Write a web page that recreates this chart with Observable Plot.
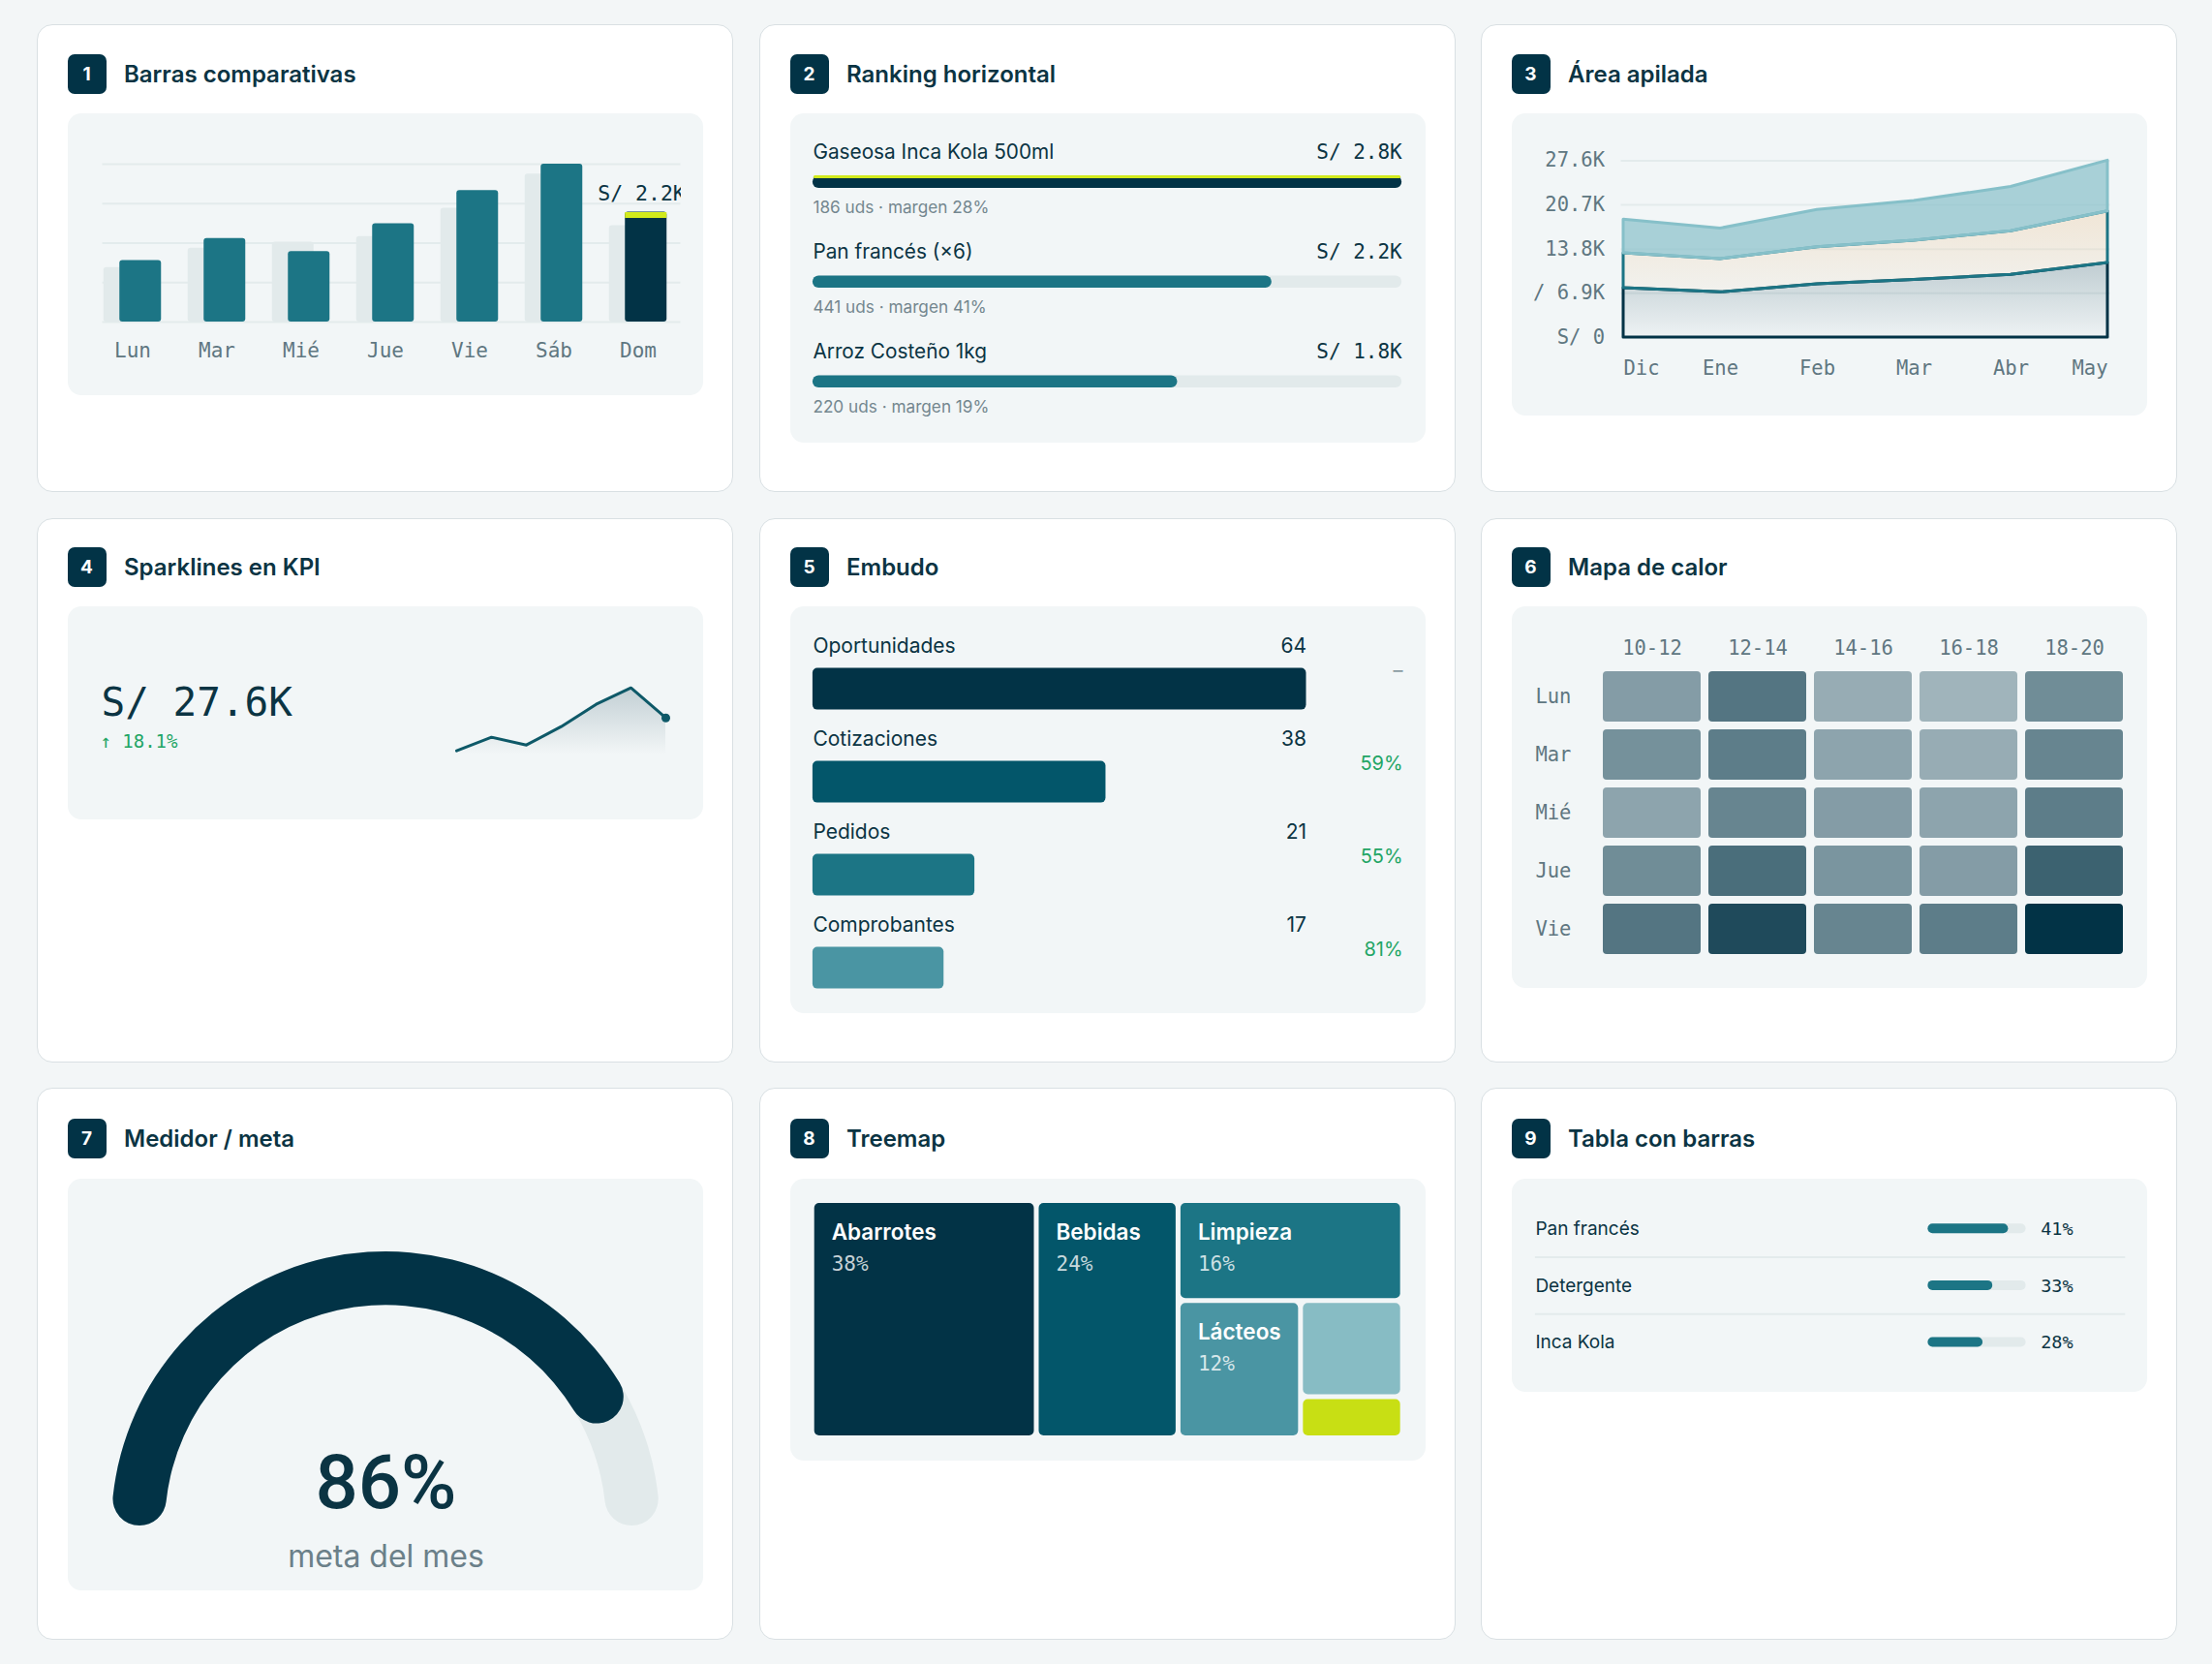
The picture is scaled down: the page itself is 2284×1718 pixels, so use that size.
<!DOCTYPE html>
<html lang="es">
<head>
<meta charset="utf-8">
<title>Panel de ventas</title>
<script src="https://cdn.jsdelivr.net/npm/d3@7"></script>
<script src="https://cdn.jsdelivr.net/npm/@observablehq/plot@0.6"></script>
<style>
  html, body { margin: 0; padding: 0; }
  body { width: 2284px; height: 1718px; position: relative; overflow: hidden; background: #f3f6f7; font-family: Inter, "Noto Sans", sans-serif; }
  .card { position: absolute; width: 719px; background: #ffffff; border: 1.5px solid #d9e0e3; border-radius: 16px; box-sizing: border-box; }
  .head { position: absolute; height: 41px; display: flex; align-items: center; }
  .badge { width: 40px; height: 41px; border-radius: 7px; background: #023346; color: #ffffff; font-weight: 700; font-size: 19px; display: flex; align-items: center; justify-content: center; }
  .title { margin-left: 18.5px; font-weight: 600; font-size: 24px; line-height: 1; color: #0b3443; white-space: nowrap; }
  .inner { position: absolute; width: 656px; background: #f2f6f7; border-radius: 14px; }
</style>
</head>
<body>
<svg width="0" height="0" style="position:absolute;left:0;top:0">
  <defs>
    <linearGradient id="gA" x1="0" y1="0" x2="0" y2="1">
      <stop offset="0" stop-color="#023346" stop-opacity="0.21"/>
      <stop offset="1" stop-color="#023346" stop-opacity="0.02"/>
    </linearGradient>
    <linearGradient id="gB" x1="0" y1="0" x2="0" y2="1">
      <stop offset="0" stop-color="#eecfa9" stop-opacity="0.42"/>
      <stop offset="1" stop-color="#eecfa9" stop-opacity="0.12"/>
    </linearGradient>
    <linearGradient id="gS" x1="0" y1="0" x2="0" y2="1">
      <stop offset="0" stop-color="#023346" stop-opacity="0.2"/>
      <stop offset="1" stop-color="#023346" stop-opacity="0"/>
    </linearGradient>
  </defs>
</svg>
<script>
// ---------------- DATA ----------------
// 1 · Barras comparativas (S/ por día, semana actual vs anterior)
const days = ["Lun", "Mar", "Mié", "Jue", "Vie", "Sáb", "Dom"];
const salesNow = [1230, 1670, 1410, 1970, 2630, 3160, 2200];
const salesPrev = [1090, 1480, 1600, 1710, 2280, 2960, 1930];
const barGrid = [0, 790, 1580, 2370, 3160];

// 2 · Ranking horizontal
const rankNames = ["Gaseosa Inca Kola 500ml", "Pan francés (×6)", "Arroz Costeño 1kg"];
const rankSales = [2830, 2205, 1752];
const rankUnits = [186, 441, 220];
const rankMargin = [28, 41, 19];

// 3 · Área apilada
const months = ["Dic", "Ene", "Feb", "Mar", "Abr", "May"];
const serieA = [7700, 7050, 8300, 9000, 9800, 11650];
const serieB = [5450, 5200, 5800, 6100, 6800, 8050];
const serieC = [5250, 4750, 5800, 6200, 6900, 7900];
const areaTicks = [0, 6900, 13800, 20700, 27600];

// 4 · Sparkline KPI
const kpiTotal = 27600;
const kpiChange = 18.1;
const sparkWeeks = ["S1", "S2", "S3", "S4", "S5", "S6", "S7"];
const sparkValues = [3.2, 3.9, 3.5, 4.45, 5.6, 6.45, 4.9];

// 5 · Embudo
const funnelStages = ["Oportunidades", "Cotizaciones", "Pedidos", "Comprobantes"];
const funnelCounts = [64, 38, 21, 17];

// 6 · Mapa de calor
const hmDays = ["Lun", "Mar", "Mié", "Jue", "Vie"];
const hmSlots = ["10-12", "12-14", "14-16", "16-18", "18-20"];
const hmValues = [
  [23, 33, 19, 17, 27],
  [26, 31, 21, 19, 29],
  [21, 29, 23, 21, 31],
  [27, 35, 25, 23, 38],
  [33, 44, 29, 31, 50]
];

// 7 · Medidor
const gaugeValue = 0.86;
const gaugeLabel = "meta del mes";

// 8 · Treemap
const tmCats = ["Abarrotes", "Bebidas", "Limpieza", "Lácteos", "Snacks", "Otros"];
const tmShare = [38, 24, 16, 12, 7, 3];

// 9 · Tabla con barras
const tblItems = ["Pan francés", "Detergente", "Inca Kola"];
const tblShare = [41, 33, 28];
const tblMax = 50;

// ---------------- STYLE ----------------
const MONO = "'DejaVu Sans Mono', 'Liberation Mono', monospace";
const SANS = "Inter, 'Noto Sans', sans-serif";
const DARK = "#023346", TEAL = "#1c7585", TEAL2 = "#03566a", TEAL3 = "#4a95a3", TEAL4 = "#87bcc4";
const LIME = "#d2ea1c", LIME_TILE = "#c8df14";
const TRACK = "#e2eaeb", GRID = "#e3ebec", TEXT = "#0b3443", GRAY = "#5f7781", SUBGRAY = "#74878f", GREEN = "#22a565", PANEL = "#f2f6f7";
const FUNNEL_COLORS = [DARK, TEAL2, TEAL, TEAL3];
const TM_COLORS = [DARK, TEAL2, TEAL, TEAL3, TEAL4, LIME_TILE];

const fmtK = v => "S/ " + (v / 1000).toFixed(1) + "K";
const baseStyle = (extra = {}) => Object.assign({background: "transparent", fontFamily: MONO, fontSize: "21px", color: GRAY, maxWidth: "none"}, extra);

function place(svg, left, top) {
  svg.style.position = "absolute";
  svg.style.left = left + "px";
  svg.style.top = top + "px";
  svg.style.maxWidth = "none";
  document.body.appendChild(svg);
}

// ---------------- CARDS ----------------
const titles = ["Barras comparativas", "Ranking horizontal", "Área apilada", "Sparklines en KPI", "Embudo", "Mapa de calor", "Medidor / meta", "Treemap", "Tabla con barras"];
const colX = [38, 784, 1529];
const rowY = [25, 535, 1123];
const rowH = [483, 562, 570];
const headOff = [31, 30.3, 32];
const innerOff = [92.3, 91.3, 94];
const innerH = [291, 339.4, 311.4, 220, 420, 393.7, 424.6, 290.7, 220.4];
titles.forEach((t, i) => {
  const r = Math.floor(i / 3), c = i % 3;
  const card = document.createElement("div");
  card.className = "card";
  card.style.left = colX[c] + "px"; card.style.top = rowY[r] + "px"; card.style.height = rowH[r] + "px";
  document.body.appendChild(card);
  const head = document.createElement("div");
  head.className = "head";
  head.style.left = (colX[c] + 31.5) + "px"; head.style.top = (rowY[r] + headOff[r]) + "px";
  head.innerHTML = `<div class="badge">${i + 1}</div><div class="title">${t}</div>`;
  document.body.appendChild(head);
  const inner = document.createElement("div");
  inner.className = "inner";
  inner.style.left = (colX[c] + 31.5) + "px"; inner.style.top = (rowY[r] + innerOff[r]) + "px"; inner.style.height = innerH[i] + "px";
  document.body.appendChild(inner);
});

// ---------------- 1 · Barras comparativas ----------------
const barRows = days.map((d, i) => ({day: d, now: salesNow[i], prev: salesPrev[i]}));
const domRow = barRows.filter(d => d.day === "Dom");
place(Plot.plot({
  width: 632.5, height: 291,
  marginLeft: 35.5, marginRight: 0, marginTop: 52, marginBottom: 76,
  x: {type: "band", domain: days, range: [1.1, 654.6], padding: 0.506, axis: null},
  y: {domain: [0, 3160], axis: null},
  color: {type: "identity"},
  style: baseStyle({overflow: "hidden"}),
  marks: [
    Plot.ruleY(barGrid, {stroke: GRID, strokeWidth: 2}),
    Plot.barY(barRows, {x: "day", y: "prev", fill: TRACK, dx: -8.25, rx: 3}),
    Plot.barY(barRows, {x: "day", y: "now", fill: d => d.day === "Dom" ? DARK : TEAL, dx: 8.25, rx: 3}),
    Plot.tickY(domRow, {x: "day", y: "now", stroke: LIME, strokeWidth: 6, dx: 8.25, dy: 3}),
    Plot.text(domRow, {x: "day", y: "now", text: d => fmtK(d.now), textAnchor: "start", dx: -41.8, dy: -12.3, lineAnchor: "bottom", fontFamily: MONO, fontSize: 21.5, fill: TEXT}),
    Plot.text(days, {x: d => d, frameAnchor: "bottom", dy: 36, lineAnchor: "bottom", fill: GRAY, fontFamily: MONO, fontSize: 21})
  ]
}), 70, 117);

// ---------------- 2 · Ranking horizontal ----------------
const rankRows = rankNames.map((n, i) => ({name: n, sales: rankSales[i], units: rankUnits[i], margin: rankMargin[i], top: i === 0}));
const RB = 103.3;
place(Plot.plot({
  width: 656.1, height: 339.4,
  marginLeft: 23.9, marginRight: 23.9, marginTop: 22.7, marginBottom: 6.7,
  x: {domain: [0, rankSales[0]], axis: null},
  y: {type: "band", domain: rankNames, padding: 0, axis: null},
  color: {type: "identity"},
  style: baseStyle(),
  marks: [
    Plot.barX(rankRows, {y: "name", x1: 0, x2: rankSales[0], fill: TRACK, insetTop: 41.5, insetBottom: 49, rx: 6.3}),
    Plot.barX(rankRows, {y: "name", x: "sales", fill: d => d.top ? DARK : TEAL, insetTop: 41.5, insetBottom: 49, rx: 6.3}),
    Plot.barX(rankRows.filter(d => d.top), {y: "name", x: "sales", fill: LIME, insetTop: 41, insetBottom: RB - 44.3, insetLeft: 1, insetRight: 1, rx: 1.5}),
    Plot.text(rankRows, {y: "name", text: "name", frameAnchor: "left", textAnchor: "start", dy: -27.65, lineAnchor: "bottom", fontFamily: SANS, fontSize: 20.8, fill: TEXT}),
    Plot.text(rankRows, {y: "name", text: d => fmtK(d.sales), frameAnchor: "right", textAnchor: "end", dy: -27.65, lineAnchor: "bottom", fontFamily: MONO, fontSize: 21, fill: TEXT}),
    Plot.text(rankRows, {y: "name", text: d => `${d.units} uds · margen ${d.margin}%`, frameAnchor: "left", textAnchor: "start", dy: 28.35, lineAnchor: "bottom", fontFamily: SANS, fontSize: 17.2, fill: SUBGRAY})
  ]
}), 815.3, 117.3);

// ---------------- 3 · Área apilada ----------------
const areaRows = months.map((m, i) => ({m, a: serieA[i], ab: serieA[i] + serieB[i], abc: serieA[i] + serieB[i] + serieC[i]}));
const fmtTick = d => d === 0 ? "S/ 0" : "S/ " + (d / 1000).toFixed(1) + "K";
const monthText = (list, anchor) => Plot.text(list, {x: d => d, frameAnchor: "bottom", dy: 38.4, lineAnchor: "bottom", textAnchor: anchor, fill: GRAY, fontFamily: MONO, fontSize: 20.5});
place(Plot.plot({
  width: 635.3, height: 311.4,
  marginLeft: 91.5, marginRight: 38.9, marginTop: 48.4, marginBottom: 80.4,
  x: {type: "point", domain: months, padding: 0, axis: null},
  y: {domain: [0, 27600], axis: null, label: null},
  style: baseStyle({overflow: "hidden"}),
  marks: [
    Plot.ruleY(areaTicks, {stroke: GRID, strokeWidth: 2}),
    Plot.areaY(areaRows, {x: "m", y1: 0, y2: "a", fill: "url(#gA)", stroke: DARK, strokeWidth: 3, strokeLinejoin: "round"}),
    Plot.areaY(areaRows, {x: "m", y1: "a", y2: "ab", fill: "url(#gB)", stroke: TEAL, strokeWidth: 3, strokeLinejoin: "round"}),
    Plot.areaY(areaRows, {x: "m", y1: "ab", y2: "abc", fill: "#8fc3cc", fillOpacity: 0.75, stroke: "#86c0c9", strokeWidth: 3, strokeLinejoin: "round"}),
    Plot.axisY(areaTicks, {tickSize: 0, tickPadding: 17, tickFormat: fmtTick, label: null, fontFamily: MONO, fontSize: 20.5}),
    monthText(months.slice(0, 1), "start"),
    monthText(months.slice(1, -1), "middle"),
    monthText(months.slice(-1), "end")
  ]
}), 1582, 117.3);

// ---------------- 4 · Sparklines en KPI ----------------
const sparkRows = sparkWeeks.map((w, i) => ({w, v: sparkValues[i]}));
place(Plot.plot({
  width: 656, height: 220,
  marginLeft: 398.9, marginRight: 36.3, marginTop: 82.7, marginBottom: 67.3,
  x: {type: "point", domain: sparkWeeks, padding: 0, axis: null},
  y: {domain: [3, 6.5], axis: null},
  style: baseStyle(),
  marks: [
    Plot.areaY(sparkRows, {x: "w", y1: 3, y2: "v", fill: "url(#gS)"}),
    Plot.lineY(sparkRows, {x: "w", y: "v", stroke: "#0e5968", strokeWidth: 3, strokeLinejoin: "round", strokeLinecap: "round"}),
    Plot.dot(sparkRows.slice(-1), {x: "w", y: "v", r: 4.5, fill: "#0e5968"}),
    Plot.text([kpiTotal], {frameAnchor: "top-left", dx: -364.9, dy: 30, text: d => fmtK(d), textAnchor: "start", lineAnchor: "bottom", fontFamily: MONO, fontSize: 41, fill: TEXT}),
    Plot.text([kpiChange], {frameAnchor: "top-left", dx: -366, dy: 62.7, text: d => "↑ " + d.toFixed(1) + "%", textAnchor: "start", lineAnchor: "bottom", fontFamily: MONO, fontSize: 19, fill: GREEN})
  ]
}), 70, 626.3);

// ---------------- 5 · Embudo ----------------
const funnelRows = funnelStages.map((s, i) => ({stage: s, count: funnelCounts[i], conv: i === 0 ? null : funnelCounts[i] / funnelCounts[i - 1], i}));
place(Plot.plot({
  width: 656.1, height: 419.9,
  marginLeft: 23.9, marginRight: 122.6, marginTop: 23.3, marginBottom: 10.2,
  x: {domain: [0, funnelCounts[0]], axis: null},
  y: {type: "band", domain: funnelStages, padding: 0, axis: null},
  color: {type: "identity"},
  style: baseStyle(),
  marks: [
    Plot.barX(funnelRows, {y: "stage", x: "count", fill: d => FUNNEL_COLORS[d.i], insetTop: 39.6, insetBottom: 13.4, rx: 5}),
    Plot.text(funnelRows, {y: "stage", text: "stage", frameAnchor: "left", textAnchor: "start", dy: -24.3, lineAnchor: "bottom", fontFamily: SANS, fontSize: 21, fill: TEXT}),
    Plot.text(funnelRows, {y: "stage", text: d => String(d.count), frameAnchor: "right", textAnchor: "end", dy: -24.3, lineAnchor: "bottom", fontFamily: SANS, fontSize: 21, fill: TEXT}),
    Plot.text(funnelRows, {y: "stage", text: d => d.conv == null ? "–" : Math.round(d.conv * 100) + "%", frameAnchor: "right", textAnchor: "end", dx: 99.6, dy: 0.9, lineAnchor: "bottom", fontFamily: SANS, fontSize: 20, fill: d => d.conv == null ? "#8a9ba2" : GREEN})
  ]
}), 815.3, 626.3);

// ---------------- 6 · Mapa de calor ----------------
const hmCells = hmDays.flatMap((d, r) => hmSlots.map((s, c) => ({day: d, slot: s, v: hmValues[r][c]})));
place(Plot.plot({
  width: 657.3, height: 393.7,
  marginLeft: 92.8, marginRight: 23.9, marginTop: 64.7, marginBottom: 32.7,
  x: {type: "band", domain: hmSlots, paddingInner: 0.077, paddingOuter: 0, axis: null},
  y: {type: "band", domain: hmDays, paddingInner: 0.135, paddingOuter: 0, axis: null},
  color: {type: "linear", domain: [0, 50], range: [PANEL, DARK], interpolate: "rgb"},
  style: baseStyle(),
  marks: [
    Plot.cell(hmCells, {x: "slot", y: "day", fill: "v", inset: 0, rx: 4}),
    Plot.axisX({anchor: "top", tickSize: 0, tickPadding: 14.9, label: null, fontFamily: MONO, fontSize: 20.5}),
    Plot.text(hmDays, {y: d => d, frameAnchor: "left", textAnchor: "start", dx: -67.9, fill: GRAY, fontFamily: MONO, fontSize: 20.5})
  ]
}), 1560, 626.3);

// ---------------- 7 · Medidor / meta ----------------
const gaugeAngle = d3.scaleLinear().domain([0, 1]).range([-Math.PI / 2, Math.PI / 2]);
place(Plot.plot({
  width: 656, height: 424.6, margin: 0,
  style: baseStyle(),
  marks: [
    () => {
      const g = d3.create("svg:g").attr("transform", "translate(328.1,358.1)");
      const arc = d3.arc().innerRadius(227.9).outerRadius(283.1).cornerRadius(27.6);
      g.append("path").attr("fill", TRACK).attr("d", arc({startAngle: gaugeAngle(0), endAngle: gaugeAngle(1)}));
      g.append("path").attr("fill", DARK).attr("d", arc({startAngle: gaugeAngle(0), endAngle: gaugeAngle(gaugeValue)}));
      return g.node();
    },
    Plot.text([gaugeValue], {frameAnchor: "bottom", dy: -85.1, text: d => Math.round(d * 100) + "%", lineAnchor: "bottom", fontFamily: "Roboto, Inter, sans-serif", fontSize: 78, fontWeight: 500, fill: TEXT}),
    Plot.text([gaugeLabel], {frameAnchor: "bottom", dy: -24, text: d => d, lineAnchor: "bottom", fontFamily: SANS, fontSize: 32, fill: "#6b8089"})
  ]
}), 70, 1217);

// ---------------- 8 · Treemap ----------------
const tmRoot = d3.treemap().size([610, 245]).tile(d3.treemapBinary).round(false)(
  d3.hierarchy({name: "ventas", children: tmCats.map((c, i) => ({name: c, value: tmShare[i], color: TM_COLORS[i]}))})
    .sum(d => d.children ? 0 : d.value)
);
const tmLeaves = tmRoot.leaves();
const tmLabeled = tmLeaves.filter(d => d.data.value >= 10);
place(Plot.plot({
  width: 656.1, height: 290.7,
  marginLeft: 23.2, marginRight: 22.9, marginTop: 22.6, marginBottom: 23.1,
  x: {domain: [0, 610], axis: null},
  y: {domain: [0, 245], reverse: true, axis: null},
  color: {type: "identity"},
  style: baseStyle(),
  marks: [
    Plot.rect(tmLeaves, {x1: "x0", x2: "x1", y1: "y0", y2: "y1", fill: d => d.data.color, inset: 2.5, rx: 5}),
    Plot.text(tmLabeled, {x: "x0", y: "y0", text: d => d.data.name, dx: 20, dy: 39.5, textAnchor: "start", lineAnchor: "bottom", fontFamily: SANS, fontSize: 22.5, fontWeight: 600, fill: "#ffffff"}),
    Plot.text(tmLabeled, {x: "x0", y: "y0", text: d => d.data.value + "%", dx: 20, dy: 71.5, textAnchor: "start", lineAnchor: "bottom", fontFamily: MONO, fontSize: 21, fill: "rgba(255,255,255,0.78)"})
  ]
}), 815.3, 1217);

// ---------------- 9 · Tabla con barras ----------------
const tblRows = tblItems.map((n, i) => ({name: n, share: tblShare[i], i}));
const HB = 0.0853;
place(Plot.plot({
  width: 657.3, height: 220.4,
  marginLeft: 24.9, marginRight: 23, marginTop: 22, marginBottom: 22.6,
  x: {domain: [0, tblMax], range: [430.4, 531.6], axis: null},
  y: {domain: [-0.5, 2.5], range: [22, 197.8], axis: null},
  style: baseStyle(),
  marks: [
    Plot.ruleY([0.5, 1.5], {stroke: GRID, strokeWidth: 2}),
    Plot.rect(tblRows, {x1: 0, x2: tblMax, y1: d => d.i - HB, y2: d => d.i + HB, fill: TRACK, rx: 5}),
    Plot.rect(tblRows, {x1: 0, x2: "share", y1: d => d.i - HB, y2: d => d.i + HB, fill: TEAL, rx: 5}),
    Plot.text(tblRows, {y: "i", text: "name", frameAnchor: "left", textAnchor: "start", dy: 6.3, lineAnchor: "bottom", fontFamily: SANS, fontSize: 19, fill: TEXT}),
    Plot.text(tblRows, {y: "i", x: tblMax, text: d => d.share + "%", textAnchor: "start", dx: 15.1, dy: 6.3, lineAnchor: "bottom", fontFamily: MONO, fontSize: 18.5, fill: TEXT})
  ]
}), 1560, 1217);
</script>
</body>
</html>
